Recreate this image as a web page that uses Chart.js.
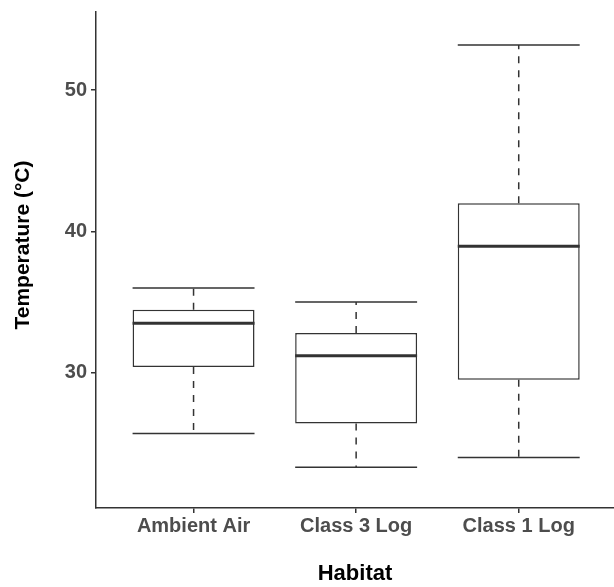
<!DOCTYPE html>
<html>
<head>
<meta charset="utf-8">
<script src="https://cdn.jsdelivr.net/npm/chart.js@4.4.1/dist/chart.umd.min.js"></script>
<style>
  html, body { margin: 0; padding: 0; background: #fff; }
  canvas { display: block; }
</style>
</head>
<body>
<canvas id="boxChart" width="614" height="587"></canvas>
<script>
// box plot summary per habitat (°C)
const habitats = ['Ambient Air', 'Class 3 Log', 'Class 1 Log'];
const whiskerLow = [25.7, 23.3, 24.0];
const q1 = [30.4, 26.4, 29.5];
const medians = [33.5, 31.2, 38.95];
const q3 = [34.45, 32.8, 42.0];
const whiskerHigh = [36.0, 35.0, 53.2];
const yTicks = [30, 40, 50];

const LINE = '#333333';
const TICK_TEXT = '#4d4d4d';
const FONT = "'Liberation Sans', Arial, sans-serif";

// whiskers + caps go under the boxes, medians on top
const boxplotExtras = {
    id: 'boxplotExtras',
    beforeDatasetsDraw(chart) {
        const ctx = chart.ctx;
        const y = chart.scales.y;
        const meta = chart.getDatasetMeta(0);
        ctx.save();
        ctx.strokeStyle = LINE;
        ctx.lineWidth = 1.5;
        meta.data.forEach((bar, i) => {
            const half = bar.width / 2;
            const yLo = y.getPixelForValue(whiskerLow[i]);
            const yHi = y.getPixelForValue(whiskerHigh[i]);
            // dashed whiskers
            ctx.setLineDash([7, 7]);
            ctx.beginPath();
            ctx.moveTo(bar.x, y.getPixelForValue(q3[i]));
            ctx.lineTo(bar.x, yHi);
            ctx.moveTo(bar.x, y.getPixelForValue(q1[i]));
            ctx.lineTo(bar.x, yLo);
            ctx.stroke();
            // caps
            ctx.setLineDash([]);
            ctx.beginPath();
            ctx.moveTo(bar.x - half, yHi);
            ctx.lineTo(bar.x + half, yHi);
            ctx.moveTo(bar.x - half, yLo);
            ctx.lineTo(bar.x + half, yLo);
            ctx.stroke();
        });
        ctx.restore();
    },
    afterDatasetsDraw(chart) {
        const ctx = chart.ctx;
        const y = chart.scales.y;
        const meta = chart.getDatasetMeta(0);
        ctx.save();
        ctx.strokeStyle = LINE;
        ctx.lineWidth = 3;
        meta.data.forEach((bar, i) => {
            const half = bar.width / 2;
            const ym = y.getPixelForValue(medians[i]);
            ctx.beginPath();
            ctx.moveTo(bar.x - half, ym);
            ctx.lineTo(bar.x + half, ym);
            ctx.stroke();
        });
        ctx.restore();
    },
    // y title sits a bit above the panel centre in the original
    afterDraw(chart) {
        const ctx = chart.ctx;
        ctx.save();
        ctx.translate(23, 245);
        ctx.rotate(-Math.PI / 2);
        ctx.font = 'bold 21px ' + FONT;
        ctx.fillStyle = '#000';
        ctx.textAlign = 'center';
        ctx.textBaseline = 'middle';
        ctx.fillText('Temperature (°C)', 0, 0);
        ctx.restore();
    }
};

const ctx = document.getElementById('boxChart').getContext('2d');
new Chart(ctx, {
    type: 'bar',
    data: {
        datasets: [{
            data: habitats.map((_, i) => ({ x: i + 1, y: [q1[i], q3[i]] })),
            backgroundColor: '#ffffff',
            borderColor: LINE,
            borderWidth: 1.5,
            borderSkipped: false,
            categoryPercentage: 1,
            barPercentage: 0.75
        }]
    },
    options: {
        responsive: false,
        devicePixelRatio: 1,
        animation: false,
        layout: { padding: { top: 11.7, right: 0, bottom: 0, left: 0 } },
        plugins: {
            legend: { display: false },
            tooltip: { enabled: false }
        },
        scales: {
            x: {
                type: 'linear',
                min: 0.4,
                max: 3.586,
                offset: false,
                afterBuildTicks: s => { s.ticks = habitats.map((_, i) => ({ value: i + 1 })); },
                afterFit: s => { s.height = 79; },
                grid: { display: true, offset: false, drawOnChartArea: false, drawTicks: true, tickLength: 5, color: LINE, lineWidth: 1.5 },
                border: { display: true, color: LINE, width: 1.5 },
                ticks: {
                    callback: v => habitats[v - 1],
                    autoSkip: false,
                    maxRotation: 0,
                    padding: 1,
                    color: TICK_TEXT,
                    font: { family: FONT, size: 20, weight: 'bold' }
                },
                title: {
                    display: true,
                    text: 'Habitat',
                    color: '#000',
                    padding: { top: 0, bottom: 0 },
                    font: { family: FONT, size: 22, weight: 'bold' }
                }
            },
            y: {
                min: 20.42,
                max: 55.55,
                afterBuildTicks: s => { s.ticks = yTicks.map(v => ({ value: v })); },
                afterFit: s => { s.width = 96; s.paddingTop = 0; s.paddingBottom = 0; },
                grid: { display: true, drawOnChartArea: false, drawTicks: true, tickLength: 5, color: LINE, lineWidth: 1.5 },
                border: { display: true, color: LINE, width: 1.5 },
                ticks: {
                    padding: 4,
                    color: TICK_TEXT,
                    font: { family: FONT, size: 20, weight: 'bold' }
                }
            }
        }
    },
    plugins: [boxplotExtras]
});
</script>
</body>
</html>
